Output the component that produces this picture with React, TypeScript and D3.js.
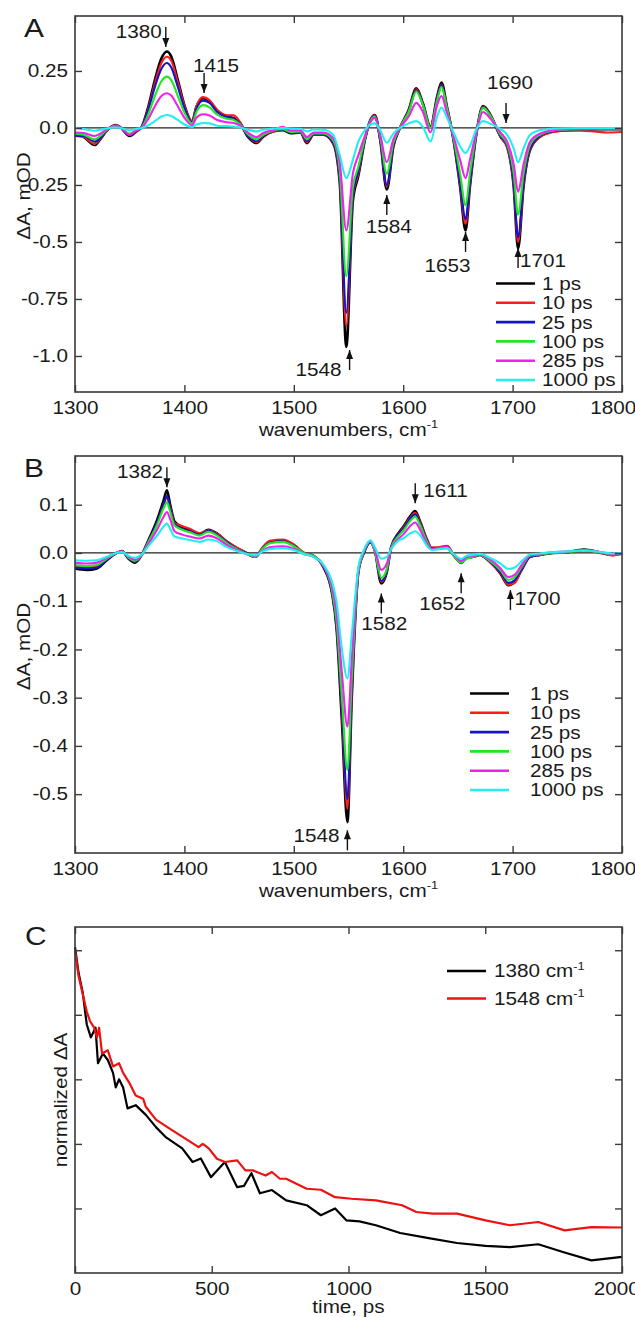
import React, { useEffect, useRef } from "react";
import * as d3 from "d3";

const W = 635;
const H = 1317;
const FONT = "'Liberation Sans', Arial, Helvetica, sans-serif";
const STRETCH = 1.15; // the source figure's lettering is a bit wide

// delays / colours shared by panels A and B
const delays = ["1 ps", "10 ps", "25 ps", "100 ps", "285 ps", "1000 ps"];
const colors = ["#000000", "#ff1c1c", "#1414c8", "#22e622", "#f020f0", "#22eeee"];

// ---------- panel A ----------
const wnA = [
  1300, 1308, 1318, 1323, 1329, 1337, 1341, 1350, 1356, 1361,
  1367, 1373, 1379, 1384, 1388, 1394, 1400, 1407, 1411, 1417,
  1423, 1430, 1439, 1445, 1451, 1458, 1466, 1472, 1481, 1490,
  1497, 1506, 1512, 1518, 1527, 1536, 1542, 1548, 1554, 1559,
  1565, 1570, 1574, 1579, 1585, 1591, 1597, 1605, 1612, 1618,
  1625, 1631, 1635, 1640, 1646, 1652, 1657, 1661, 1667, 1673,
  1679, 1689, 1695, 1701, 1705, 1710, 1716, 1725, 1737, 1749,
  1762, 1774, 1787, 1800,
];
const a1ps = [
  -0.03, -0.04, -0.075, -0.05, -0.012, 0.013, 0.005, -0.035, -0.015, 0.005,
  0.093, 0.21, 0.305, 0.335, 0.313, 0.21, 0.1, 0.028, 0.093, 0.13,
  0.116, 0.073, 0.05, 0.043, 0.02, -0.038, -0.066, -0.038, -0.015, -0.01,
  -0.023, -0.02, -0.067, -0.03, -0.03, -0.067, -0.24, -0.96, -0.32, -0.21,
  -0.053, 0.035, 0.057, -0.053, -0.27, -0.082, 0.0, 0.079, 0.174, 0.108,
  0.006, 0.137, 0.199, 0.093, -0.053, -0.257, -0.45, -0.257, -0.023, 0.096,
  0.064, -0.038, -0.082, -0.257, -0.53, -0.257, -0.096, -0.038, -0.015, -0.01,
  -0.008, -0.005, -0.006, -0.005,
];
const a10ps = [
  -0.035, -0.04, -0.07, -0.048, -0.012, 0.012, 0.005, -0.032, -0.014, 0.004,
  0.085, 0.195, 0.285, 0.312, 0.295, 0.2, 0.098, 0.03, 0.095, 0.135,
  0.122, 0.08, 0.056, 0.055, 0.025, -0.035, -0.062, -0.036, -0.015, -0.008,
  -0.02, -0.02, -0.062, -0.03, -0.03, -0.065, -0.23, -0.87, -0.3, -0.2,
  -0.05, 0.035, 0.055, -0.05, -0.255, -0.078, 0.0, 0.075, 0.17, 0.105,
  0.004, 0.132, 0.19, 0.09, -0.05, -0.25, -0.42, -0.25, -0.022, 0.094,
  0.062, -0.04, -0.085, -0.25, -0.5, -0.25, -0.095, -0.04, -0.018, -0.012,
  -0.012, -0.015, -0.02, -0.018,
];
const a25ps = [
  -0.035, -0.035, -0.06, -0.045, -0.01, 0.01, 0.004, -0.03, -0.012, 0.004,
  0.08, 0.18, 0.26, 0.285, 0.265, 0.18, 0.088, 0.025, 0.085, 0.12,
  0.11, 0.07, 0.048, 0.042, 0.018, -0.034, -0.058, -0.034, -0.013, -0.008,
  -0.02, -0.018, -0.058, -0.027, -0.028, -0.062, -0.22, -0.81, -0.29, -0.19,
  -0.05, 0.032, 0.052, -0.048, -0.25, -0.075, 0.0, 0.072, 0.165, 0.102,
  0.002, 0.13, 0.188, 0.088, -0.05, -0.24, -0.4, -0.24, -0.022, 0.092,
  0.06, -0.036, -0.078, -0.24, -0.48, -0.24, -0.09, -0.035, -0.014, -0.01,
  -0.006, -0.005, -0.004, -0.004,
];
const a100ps = [
  -0.025, -0.03, -0.05, -0.035, -0.008, 0.01, 0.004, -0.025, -0.01, 0.002,
  0.06, 0.14, 0.205, 0.225, 0.21, 0.14, 0.068, 0.02, 0.07, 0.1,
  0.09, 0.058, 0.04, 0.035, 0.015, -0.028, -0.05, -0.03, -0.012, -0.006,
  -0.018, -0.015, -0.05, -0.024, -0.024, -0.055, -0.19, -0.65, -0.26, -0.17,
  -0.045, 0.03, 0.05, -0.04, -0.2, -0.065, 0.0, 0.07, 0.16, 0.1,
  0.0, 0.12, 0.18, 0.085, -0.045, -0.2, -0.34, -0.2, -0.02, 0.088,
  0.058, -0.03, -0.07, -0.2, -0.38, -0.2, -0.075, -0.03, -0.012, -0.008,
  -0.005, -0.004, -0.004, -0.004,
];
const a285ps = [
  -0.02, -0.022, -0.035, -0.025, -0.006, 0.008, 0.003, -0.03, -0.01, 0.0,
  0.04, 0.095, 0.14, 0.152, 0.142, 0.095, 0.045, 0.012, 0.045, 0.06,
  0.055, 0.035, 0.025, 0.022, 0.01, -0.02, -0.04, -0.022, -0.01, 0.005,
  -0.01, -0.01, -0.04, -0.02, -0.02, -0.045, -0.15, -0.45, -0.2, -0.12,
  -0.035, 0.025, 0.045, -0.03, -0.15, -0.05, 0.0, 0.05, 0.11, 0.07,
  -0.02, 0.1, 0.14, 0.065, -0.035, -0.14, -0.22, -0.14, -0.015, 0.07,
  0.045, -0.02, -0.06, -0.16, -0.28, -0.16, -0.06, -0.025, -0.01, -0.006,
  -0.004, -0.004, -0.003, -0.003,
];
const a1000ps = [
  0.0, -0.005, -0.012, -0.008, -0.002, 0.003, 0.001, -0.01, -0.004, 0.0,
  0.012, 0.03, 0.05, 0.057, 0.052, 0.035, 0.015, 0.004, 0.015, 0.022,
  0.02, 0.01, 0.008, 0.006, 0.002, -0.008, -0.015, -0.008, -0.003, 0.0,
  -0.003, -0.004, -0.015, -0.007, -0.008, -0.03, -0.12, -0.22, -0.14, -0.06,
  -0.01, 0.015, 0.02, -0.01, -0.065, -0.025, 0.0, 0.02, 0.03, 0.005,
  -0.06, 0.05, 0.09, 0.045, -0.02, -0.08, -0.11, -0.08, -0.005, 0.03,
  0.02, -0.005, -0.03, -0.09, -0.15, -0.09, -0.03, -0.01, -0.003, -0.001,
  0.0, 0.0, 0.0, 0.0,
];

// ---------- panel B ----------
const wnB = [
  1300, 1311, 1320, 1329, 1338, 1343, 1349, 1355, 1361, 1367,
  1375, 1381, 1384, 1387, 1391, 1398, 1405, 1414, 1422, 1430,
  1439, 1448, 1455, 1465, 1472, 1478, 1490, 1500, 1509, 1518,
  1527, 1535, 1539, 1544, 1549, 1553, 1559, 1564, 1570, 1574,
  1580, 1585, 1589, 1596, 1600, 1606, 1611, 1615, 1622, 1626,
  1632, 1640, 1646, 1653, 1658, 1664, 1670, 1679, 1689, 1696,
  1702, 1708, 1716, 1725, 1737, 1749, 1765, 1780, 1791, 1800,
];
const b1ps = [
  -0.032, -0.035, -0.032, -0.015, 0.0, 0.004, -0.012, -0.02, -0.004, 0.026,
  0.068, 0.109, 0.13, 0.1, 0.065, 0.054, 0.048, 0.04, 0.048, 0.04,
  0.023, 0.01, 0.002, -0.008, 0.012, 0.023, 0.026, 0.016, 0.0, -0.006,
  -0.029, -0.084, -0.154, -0.35, -0.558, -0.3, -0.04, 0.0, 0.023, 0.006,
  -0.063, -0.04, 0.012, 0.042, 0.054, 0.075, 0.087, 0.068, 0.026, 0.01,
  0.01, 0.014, -0.004, -0.02, -0.01, -0.008, -0.004, -0.018, -0.043, -0.067,
  -0.06, -0.036, -0.008, -0.004, 0.0, 0.001, 0.007, 0.001, -0.004, 0.0,
];
const b10ps = [
  -0.028, -0.03, -0.028, -0.013, 0.0, 0.004, -0.01, -0.018, -0.003, 0.024,
  0.062, 0.1, 0.115, 0.095, 0.062, 0.056, 0.05, 0.041, 0.047, 0.04,
  0.024, 0.011, 0.002, -0.007, 0.013, 0.025, 0.028, 0.018, 0.001, -0.006,
  -0.028, -0.08, -0.148, -0.33, -0.53, -0.29, -0.038, 0.0, 0.022, 0.006,
  -0.06, -0.038, 0.012, 0.04, 0.052, 0.072, 0.083, 0.066, 0.026, 0.011,
  0.012, 0.015, -0.003, -0.02, -0.01, -0.007, -0.004, -0.018, -0.042, -0.066,
  -0.062, -0.036, -0.008, -0.004, 0.0, 0.002, 0.006, 0.0, -0.005, -0.002,
];
const b25ps = [
  -0.03, -0.032, -0.03, -0.014, 0.0, 0.003, -0.011, -0.018, -0.004, 0.024,
  0.063, 0.1, 0.118, 0.093, 0.06, 0.05, 0.045, 0.038, 0.046, 0.038,
  0.022, 0.009, 0.001, -0.008, 0.011, 0.021, 0.024, 0.015, 0.0, -0.006,
  -0.028, -0.082, -0.15, -0.32, -0.51, -0.28, -0.04, 0.0, 0.022, 0.005,
  -0.058, -0.037, 0.011, 0.04, 0.05, 0.07, 0.08, 0.063, 0.024, 0.009,
  0.009, 0.012, -0.005, -0.021, -0.011, -0.008, -0.004, -0.017, -0.04, -0.062,
  -0.056, -0.034, -0.008, -0.004, 0.0, 0.001, 0.006, 0.001, -0.003, 0.0,
];
const b100ps = [
  -0.025, -0.027, -0.025, -0.012, 0.0, 0.003, -0.01, -0.016, -0.004, 0.022,
  0.058, 0.093, 0.105, 0.086, 0.057, 0.048, 0.043, 0.036, 0.044, 0.036,
  0.02, 0.008, 0.0, -0.008, 0.01, 0.02, 0.023, 0.014, 0.0, -0.006,
  -0.026, -0.078, -0.14, -0.3, -0.45, -0.26, -0.04, 0.002, 0.024, 0.004,
  -0.052, -0.033, 0.01, 0.036, 0.046, 0.065, 0.075, 0.06, 0.022, 0.008,
  0.008, 0.01, -0.006, -0.02, -0.012, -0.008, -0.004, -0.016, -0.036, -0.056,
  -0.05, -0.03, -0.006, -0.003, 0.0, 0.001, 0.005, 0.001, -0.003, 0.0,
];
const b285ps = [
  -0.02, -0.022, -0.02, -0.01, 0.0, 0.003, -0.008, -0.014, -0.004, 0.018,
  0.048, 0.075, 0.085, 0.07, 0.045, 0.038, 0.034, 0.03, 0.036, 0.03,
  0.016, 0.006, -0.001, -0.006, 0.006, 0.012, 0.014, 0.009, -0.002, -0.008,
  -0.026, -0.07, -0.12, -0.25, -0.36, -0.22, -0.036, 0.004, 0.024, 0.008,
  -0.035, -0.022, 0.008, 0.03, 0.038, 0.055, 0.063, 0.05, 0.018, 0.008,
  0.01, 0.012, -0.003, -0.016, -0.008, -0.006, -0.003, -0.013, -0.032, -0.05,
  -0.045, -0.026, -0.005, -0.002, 0.002, 0.003, 0.006, 0.002, -0.002, 0.0,
];
const b1000ps = [
  -0.015, -0.016, -0.015, -0.008, 0.0, 0.002, -0.006, -0.01, -0.003, 0.014,
  0.036, 0.055, 0.061, 0.05, 0.034, 0.03, 0.027, 0.023, 0.028, 0.024,
  0.012, 0.004, -0.001, -0.005, 0.004, 0.008, 0.01, 0.006, -0.002, -0.008,
  -0.024, -0.06, -0.1, -0.2, -0.26, -0.17, -0.03, 0.006, 0.026, 0.012,
  -0.012, -0.008, 0.008, 0.026, 0.03, 0.04, 0.045, 0.038, 0.014, 0.006,
  0.008, 0.01, -0.002, -0.012, -0.006, -0.004, -0.002, -0.01, -0.022, -0.033,
  -0.03, -0.018, -0.003, -0.001, 0.002, 0.003, 0.005, 0.002, -0.001, 0.0,
];

// ---------- panel C ----------
const tBlack = [
  0, 13, 28, 43, 58, 75, 84, 102, 120, 139, 149, 161, 176, 192, 222, 259, 296, 333,
  392, 430, 460, 497, 548, 593, 618, 645, 676, 720, 772, 847, 899, 951, 993, 1040,
  1100, 1189, 1293, 1397, 1501, 1590, 1694, 1784, 1888, 2000,
];
const kin1380 = [
  1.01, 0.93, 0.87, 0.77, 0.73, 0.76, 0.65, 0.68, 0.66, 0.62, 0.575, 0.6, 0.575, 0.51, 0.52, 0.49, 0.452, 0.42,
  0.386, 0.344, 0.355, 0.297, 0.344, 0.266, 0.27, 0.309, 0.247, 0.257, 0.225, 0.21, 0.179, 0.2, 0.163, 0.16,
  0.148, 0.124, 0.108, 0.093, 0.084, 0.08, 0.089, 0.065, 0.039, 0.05,
];
const tRed = [
  0, 13, 43, 55, 70, 80, 88, 99, 120, 139, 161, 176, 198, 222, 249, 259, 296, 356,
  415, 452, 467, 489, 519, 548, 593, 623, 650, 697, 720, 749, 772, 847, 899, 951,
  1011, 1100, 1196, 1248, 1308, 1397, 1501, 1590, 1694, 1790, 1888, 2000,
];
const kin1548 = [
  1.0, 0.92, 0.81, 0.78, 0.76, 0.73, 0.76, 0.68, 0.69, 0.64, 0.65, 0.62, 0.59, 0.55, 0.54, 0.515, 0.475, 0.442,
  0.41, 0.39, 0.4, 0.386, 0.354, 0.344, 0.349, 0.318, 0.318, 0.302, 0.313, 0.292, 0.292, 0.261, 0.258, 0.235,
  0.23, 0.225, 0.21, 0.189, 0.184, 0.184, 0.163, 0.148, 0.158, 0.132, 0.142, 0.141,
];
const kinLabels = ["1380 cm", "1548 cm"];
const kinColors = ["#000000", "#ee1111"];

// axis ticks
const wnTicks = [1300, 1400, 1500, 1600, 1700, 1800];
const wnTickLabels = ["1300", "1400", "1500", "1600", "1700", "1800"];
const yTicksA = [0.25, 0, -0.25, -0.5, -0.75, -1.0];
const yTickLabelsA = ["0.25", "0.0", "-0.25", "-0.5", "-0.75", "-1.0"];
const yTicksB = [0.1, 0, -0.1, -0.2, -0.3, -0.4, -0.5];
const yTickLabelsB = ["0.1", "0.0", "-0.1", "-0.2", "-0.3", "-0.4", "-0.5"];
const tTicks = [0, 500, 1000, 1500, 2000];
const tTickLabels = ["0", "500", "1000", "1500", "20000"];
const yTicksC = [0.2, 0.4, 0.6, 0.8, 1.0];

// peak markers: wavenumber and ΔA at the arrow tip, arrow direction
const peaksA = [
  { label: "1380", wn: 1383, v: 0.355, dir: "down" },
  { label: "1415", wn: 1418, v: 0.153, dir: "down" },
  { label: "1690", wn: 1694, v: 0.022, dir: "down" },
  { label: "1584", wn: 1585, v: -0.294, dir: "up" },
  { label: "1653", wn: 1657, v: -0.456, dir: "up" },
  { label: "1701", wn: 1705, v: -0.526, dir: "up" },
  { label: "1548", wn: 1551, v: -0.974, dir: "up" },
];
const peaksB = [
  { label: "1382", wn: 1384, v: 0.136, dir: "down" },
  { label: "1611", wn: 1611, v: 0.103, dir: "down" },
  { label: "1582", wn: 1580, v: -0.084, dir: "up" },
  { label: "1652", wn: 1653, v: -0.042, dir: "up" },
  { label: "1700", wn: 1698, v: -0.077, dir: "up" },
  { label: "1548", wn: 1549, v: -0.575, dir: "up" },
];
// where each peak label sits relative to its arrow tip: [dx, dy, anchor]
const peakLabelPosA = [
  [-4, -9, "end"], [12, -21, "middle"], [4, -34, "middle"], [2, 38, "middle"],
  [-18, 40, "middle"], [2, 19, "start"], [-8, 26, "end"],
];
const peakLabelPosB = [
  [-4, -9, "end"], [8, -6, "start"], [3, 37, "middle"], [-19, 37, "middle"],
  [4, 15, "start"], [-8, 12, "end"],
];

const App = () => {
  const ref = useRef(null);

  useEffect(() => {
    const svg = d3.select(ref.current);
    svg.selectAll("*").remove();

    const frame = { left: 75, right: 622 };

    const styleAxis = (g, labels) => {
      g.select(".domain").remove();
      g.selectAll(".tick line").attr("stroke", "#3a3a3a").attr("stroke-width", 1.4);
      g.attr("font-family", FONT).attr("font-size", 18);
      g.selectAll(".tick text").attr("fill", "#1a1a1a").attr("transform", `scale(${STRETCH},1)`);
      if (!labels) g.selectAll(".tick text").remove();
    };

    const drawFrame = (g, x, y, top, bottom, xt, xl, yt, yl, lastShift = 0) => {
      g.append("g")
        .attr("transform", `translate(0,${bottom})`)
        .call(d3.axisBottom(x).tickValues(xt).tickFormat((d, i) => xl[i]).tickSizeInner(-7).tickSizeOuter(0).tickPadding(9))
        .call((s) => styleAxis(s, true))
        .call((s) => s.selectAll(".tick text").filter((d, i, n) => i === n.length - 1).attr("x", lastShift));
      g.append("g")
        .attr("transform", `translate(0,${top})`)
        .call(d3.axisTop(x).tickValues(xt).tickSizeInner(-7).tickSizeOuter(0))
        .call((s) => styleAxis(s, false));
      g.append("g")
        .attr("transform", `translate(${frame.left},0)`)
        .call(d3.axisLeft(y).tickValues(yt).tickFormat((d, i) => (yl ? yl[i] : "")).tickSizeInner(-7).tickSizeOuter(0).tickPadding(6))
        .call((s) => styleAxis(s, !!yl));
      g.append("g")
        .attr("transform", `translate(${frame.right},0)`)
        .call(d3.axisRight(y).tickValues(yt).tickSizeInner(-7).tickSizeOuter(0))
        .call((s) => styleAxis(s, false));
      g.append("rect")
        .attr("x", frame.left)
        .attr("y", top)
        .attr("width", frame.right - frame.left)
        .attr("height", bottom - top)
        .attr("fill", "none")
        .attr("stroke", "#3a3a3a")
        .attr("stroke-width", 1.6);
    };

    // text stretched horizontally around its anchor point
    const addText = (g, str, sup, x, y, opts = {}) => {
      const size = opts.size || 18;
      const rot = opts.rotate ? " rotate(-90)" : "";
      const t = g.append("text")
        .attr("font-family", FONT)
        .attr("font-size", size)
        .attr("fill", "#1a1a1a")
        .attr("text-anchor", opts.anchor || "start")
        .attr("transform", `translate(${x},${y})${rot} scale(${STRETCH},1)`);
      if (opts.dy) t.attr("dy", opts.dy);
      t.append("tspan").text(str);
      if (sup) t.append("tspan").attr("font-size", size * 0.62).attr("dy", -size * 0.42).text(sup);
      return t;
    };

    const drawArrow = (g, px, tipY, dir) => {
      const len = 20;
      const s = dir === "down" ? -1 : 1;
      g.append("line")
        .attr("x1", px).attr("x2", px)
        .attr("y1", tipY).attr("y2", tipY + s * len)
        .attr("stroke", "#111").attr("stroke-width", 1.4);
      g.append("path")
        .attr("d", `M${px},${tipY} L${px - 3.5},${tipY + s * 9} L${px + 3.5},${tipY + s * 9} Z`)
        .attr("fill", "#111");
    };

    const drawPeaks = (g, x, y, peaks, pos) => {
      peaks.forEach((p, i) => {
        const px = x(p.wn);
        const py = y(p.v);
        drawArrow(g, px, py, p.dir);
        const [dx, dy, anchor] = pos[i];
        addText(g, p.label, null, px + dx, py + dy, { anchor });
      });
    };

    const drawSpectra = (cfg) => {
      const g = svg.append("g");
      const x = d3.scaleLinear().domain([1300, 1800]).range([frame.left, frame.right]);
      const y = d3.scaleLinear().domain(cfg.yDomain).range([cfg.bottom, cfg.top]);

      g.append("line")
        .attr("x1", frame.left).attr("x2", frame.right)
        .attr("y1", y(0)).attr("y2", y(0))
        .attr("stroke", "#222").attr("stroke-width", 1.2);

      const line = d3.line().x((d) => x(d[0])).y((d) => y(d[1])).curve(d3.curveMonotoneX);
      cfg.series.forEach((vals, i) => {
        g.append("path")
          .datum(cfg.wn.map((w, j) => [w, vals[j]]))
          .attr("fill", "none")
          .attr("stroke", colors[i])
          .attr("stroke-width", i === 0 ? 2.6 : 2.1)
          .attr("stroke-linejoin", "round")
          .attr("d", line);
      });

      drawFrame(g, x, y, cfg.top, cfg.bottom, wnTicks, wnTickLabels, cfg.yTicks, cfg.yLabels, -8);
      drawPeaks(g, x, y, cfg.peaks, cfg.peakPos);

      // legend
      delays.forEach((d, i) => {
        const ly = cfg.legendY + i * 19.3;
        g.append("line")
          .attr("x1", cfg.legendX).attr("x2", cfg.legendX + 39)
          .attr("y1", ly).attr("y2", ly)
          .attr("stroke", colors[i]).attr("stroke-width", 2.6);
        addText(g, d, null, cfg.legendTextX, ly, { dy: "0.36em" });
      });

      addText(g, "wavenumbers, cm", "-1", (frame.left + frame.right) / 2, cfg.bottom + 44, { anchor: "middle" });
      addText(g, "ΔA, mOD", null, 30, (cfg.top + cfg.bottom) / 2 - 8, { anchor: "middle", rotate: true });
      addText(g, cfg.tag, null, 24, cfg.tagY, { size: 26 });
    };

    drawSpectra({
      top: 16, bottom: 392, yDomain: [-1.158, 0.491],
      wn: wnA, series: [a1ps, a10ps, a25ps, a100ps, a285ps, a1000ps],
      yTicks: yTicksA, yLabels: yTickLabelsA, peaks: peaksA, peakPos: peakLabelPosA,
      legendX: 496, legendTextX: 542, legendY: 283.5, tag: "A", tagY: 37,
    });
    drawSpectra({
      top: 456, bottom: 853, yDomain: [-0.622, 0.201],
      wn: wnB, series: [b1ps, b10ps, b25ps, b100ps, b285ps, b1000ps],
      yTicks: yTicksB, yLabels: yTickLabelsB, peaks: peaksB, peakPos: peakLabelPosB,
      legendX: 470, legendTextX: 530, legendY: 693.5, tag: "B", tagY: 477,
    });

    // panel C – kinetics
    const top = 927;
    const bottom = 1273;
    const gc = svg.append("g");
    const x = d3.scaleLinear().domain([0, 2000]).range([frame.left, frame.right]);
    const y = d3.scaleLinear().domain([0, 1.072]).range([bottom, top]);
    const line = d3.line().x((d) => x(d[0])).y((d) => y(d[1]));
    [[tBlack, kin1380], [tRed, kin1548]].forEach(([t, v], i) => {
      gc.append("path")
        .datum(t.map((tt, j) => [tt, v[j]]))
        .attr("fill", "none")
        .attr("stroke", kinColors[i])
        .attr("stroke-width", 2.2)
        .attr("stroke-linejoin", "round")
        .attr("d", line);
    });
    drawFrame(gc, x, y, top, bottom, tTicks, tTickLabels, yTicksC, null, 0);
    kinLabels.forEach((lab, i) => {
      const ly = 971 + i * 27.5;
      gc.append("line")
        .attr("x1", 447).attr("x2", 486)
        .attr("y1", ly).attr("y2", ly)
        .attr("stroke", kinColors[i]).attr("stroke-width", 2.6);
      addText(gc, lab, "-1", 494, ly, { dy: "0.36em" });
    });
    addText(gc, "time, ps", null, (frame.left + frame.right) / 2, bottom + 40, { anchor: "middle" });
    addText(gc, "normalized ΔA", null, 67, (top + bottom) / 2, { anchor: "middle", rotate: true });
    addText(gc, "C", null, 25, 945, { size: 26 });
  }, []);

  return (
    <svg
      ref={ref}
      width={W}
      height={H}
      viewBox={`0 0 ${W} ${H}`}
      style={{ position: "absolute", left: 0, top: 0, background: "#fff", display: "block" }}
    />
  );
};

export default App;
